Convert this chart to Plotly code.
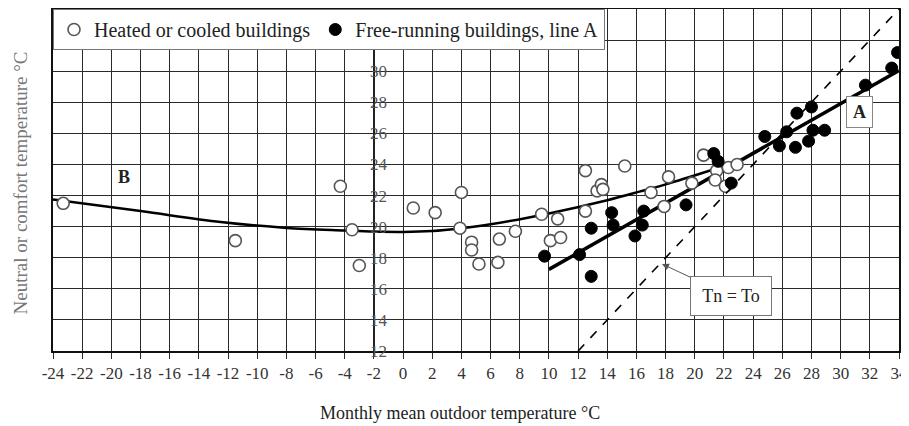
import plotly.graph_objects as go

# ---- data ----
heated_x = [-23.3, -11.5, -4.3, -3.5, -3.0, 0.7, 2.2, 4.0, 3.9, 4.7, 4.7, 5.2, 6.6, 6.5, 7.7,
            9.5, 10.6, 10.1, 10.8, 12.5, 13.3, 13.6, 13.7, 15.2, 12.5, 18.2, 17.0, 19.8, 17.9,
            20.6, 21.5, 21.4, 22.1, 22.3, 22.9]
heated_y = [21.5, 19.1, 22.6, 19.8, 17.5, 21.2, 20.9, 22.2, 19.9, 19.0, 18.5, 17.6, 19.2, 17.7, 19.7,
            20.8, 20.5, 19.1, 19.3, 23.6, 22.3, 22.7, 22.4, 23.9, 21.0, 23.2, 22.2, 22.8, 21.3,
            24.6, 23.6, 23.0, 22.6, 23.8, 24.0]

free_x = [9.7, 12.1, 12.9, 12.9, 14.3, 14.4, 15.9, 16.4, 16.5, 19.4, 21.3, 21.6, 22.5, 24.8, 25.8,
          26.3, 26.9, 27.0, 28.0, 27.8, 28.1, 28.9, 31.7, 33.5, 33.9]
free_y = [18.1, 18.2, 16.8, 19.9, 20.9, 20.1, 19.4, 20.1, 21.0, 21.4, 24.7, 24.2, 22.8, 25.8, 25.2,
          26.1, 25.1, 27.3, 27.7, 25.5, 26.2, 26.2, 29.1, 30.2, 31.2]

lineA_x = [10.0, 34.0]
lineA_y = [17.25, 30.05]

lineB_x = [-24.0, -18.0, -12.5, -8.0, -4.0, -2.0, 0.0, 2.0, 4.0, 6.0, 10.0, 14.0, 16.2, 18.3, 21.7]
lineB_y = [21.75, 21.0, 20.3, 19.92, 19.75, 19.68, 19.66, 19.72, 19.9, 20.15, 20.85, 21.7, 22.25, 22.8, 23.8]

equal_x = [12, 34]
equal_y = [12, 34]

x_tick_vals = [-24, -22, -20, -18, -16, -14, -12, -10, -8, -6, -4, -2, 0, 2, 4, 6, 8, 10, 12, 14,
               16, 18, 20, 22, 24, 26, 28, 30, 32, 34]
x_tick_text = ["-24", "-22", "-20", "-18", "-16", "-14", "-12", "-10", "-8", "-6", "-4", "-2", "0",
               "2", "4", "6", "8", "10", "12", "14", "16", "18", "20", "22", "24", "26", "28", "30",
               "32", "34"]
y_grid_vals = [12, 14, 16, 18, 20, 22, 24, 26, 28, 30, 32, 34]
y_tick_vals = [12, 14, 16, 18, 20, 22, 24, 26, 28, 30]
y_tick_text = ["12", "14", "16", "18", "20", "22", "24", "26", "28", "30"]

FONT = "Liberation Serif"

fig = go.Figure()

fig.add_trace(go.Scatter(x=lineB_x, y=lineB_y, mode="lines", line=dict(color="black", width=2.5, shape="spline"),
                         showlegend=False, hoverinfo="skip"))
fig.add_trace(go.Scatter(x=lineA_x, y=lineA_y, mode="lines", line=dict(color="black", width=3.5),
                         showlegend=False, hoverinfo="skip"))
fig.add_trace(go.Scatter(x=heated_x, y=heated_y, mode="markers", name="Heated or cooled buildings",
                         marker=dict(symbol="circle", size=12, color="white", line=dict(color="#555", width=1.6))))
fig.add_trace(go.Scatter(x=free_x, y=free_y, mode="markers", name="Free-running buildings, line A",
                         marker=dict(symbol="circle", size=12, color="black", line=dict(color="black", width=1))))
fig.add_trace(go.Scatter(x=equal_x, y=equal_y, mode="lines", yaxis="y2",
                         line=dict(color="black", width=1.6, dash="dash"), showlegend=False, hoverinfo="skip"))

fig.update_layout(
    width=901, height=418,
    margin=dict(l=45, r=10, t=1, b=75, autoexpand=False),
    paper_bgcolor="white", plot_bgcolor="white",
    font=dict(family=FONT, size=17, color="#222"),
    xaxis=dict(range=[-24, 34], tickvals=x_tick_vals, ticktext=x_tick_text,
               showgrid=True, gridcolor="#2a2a2a", gridwidth=1.4, zeroline=False,
               showline=True, linecolor="#111", linewidth=2, mirror=True,
               ticks="outside", ticklen=6, tickwidth=1.4, tickcolor="#2a2a2a",
               tickfont=dict(family=FONT, size=17, color="#333")),
    yaxis=dict(range=[12, 34], tickvals=y_grid_vals, showticklabels=False,
               showgrid=True, gridcolor="#2a2a2a", gridwidth=1.4, zeroline=False,
               showline=True, linecolor="#111", linewidth=2, mirror=True, ticks=""),
    yaxis2=dict(range=[12, 34], overlaying="y", matches="y", anchor="free", position=22 / 58, side="right",
                tickvals=y_tick_vals, ticktext=y_tick_text,
                showgrid=False, zeroline=False, showline=True, linecolor="#222", linewidth=1.5,
                ticks="outside", ticklen=3, tickcolor="#333", ticklabelstandoff=-11,
                tickfont=dict(family=FONT, size=17, color="#555")),
    legend=dict(orientation="h", x=0, y=1, xanchor="left", yanchor="top",
                bgcolor="white", bordercolor="#777", borderwidth=1,
                font=dict(family=FONT, size=20, color="#222")),
    showlegend=True,
)

fig.add_annotation(xref="paper", yref="paper", x=(451.5 - 45) / 846, y=-(405 - 343) / 342,
                   text="Monthly mean outdoor temperature °C", showarrow=False,
                   xanchor="center", yanchor="middle", font=dict(family=FONT, size=18, color="#222"))
fig.add_annotation(xref="paper", yref="paper", x=(12 - 45) / 846, y=0.49, textangle=-90,
                   text="Neutral or comfort temperature °C", showarrow=False,
                   xanchor="center", yanchor="middle", font=dict(family=FONT, size=19, color="#777"))
fig.add_annotation(x=-19.1, y=23.2, text="<b>B</b>", showarrow=False,
                   font=dict(family=FONT, size=18, color="#222"))
fig.add_annotation(x=31.3, y=27.4, text="<b>A</b>", showarrow=False,
                   font=dict(family=FONT, size=18, color="#222"), bgcolor="white",
                   bordercolor="#888", borderwidth=1, borderpad=4, width=17, height=22)
fig.add_annotation(x=17.75, y=17.6, ax=22.46, ay=15.53, axref="x", ayref="y",
                   text="Tn = To", showarrow=True, arrowhead=2, arrowsize=1.4, arrowwidth=1,
                   arrowcolor="#555", font=dict(family=FONT, size=18, color="#222"),
                   bgcolor="white", bordercolor="#777", borderwidth=1, borderpad=5, width=70, height=28)

fig.write_html("out.html")
